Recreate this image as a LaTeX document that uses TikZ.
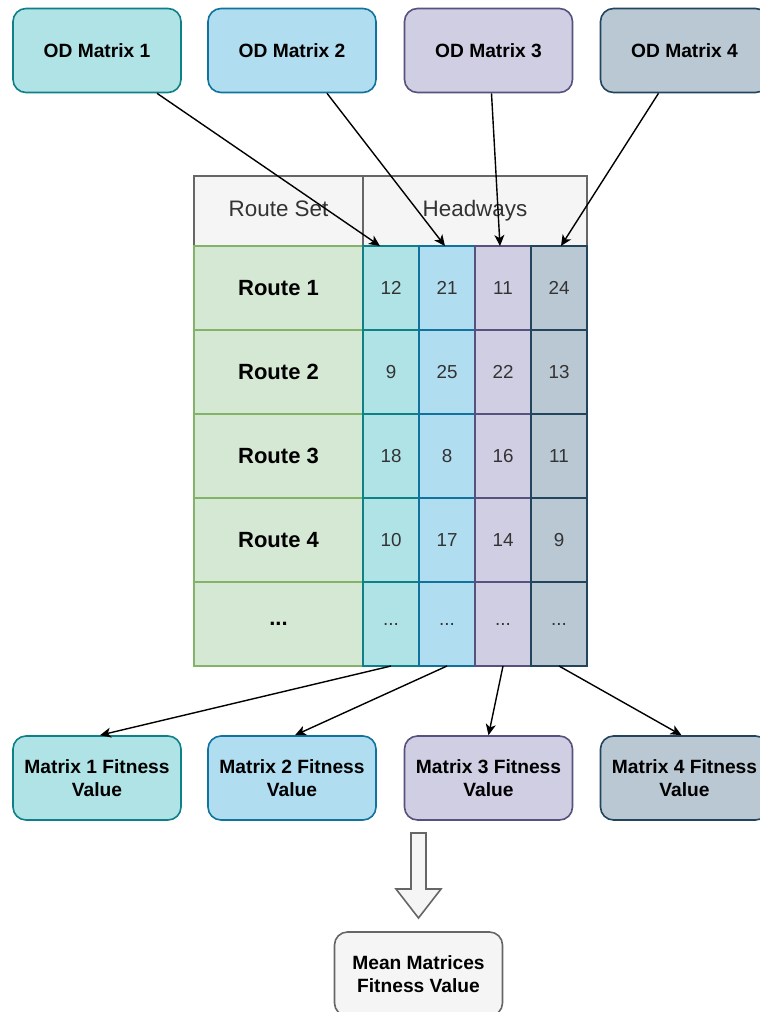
\documentclass[tikz,border=0pt]{standalone}
\usepackage{fontspec}
\setmainfont{Liberation Sans}
\usetikzlibrary{arrows.meta}
\definecolor{mafill}{HTML}{B0E3E6}
\definecolor{maline}{HTML}{0E8088}
\definecolor{mbfill}{HTML}{B1DDF0}
\definecolor{mbline}{HTML}{10739E}
\definecolor{mcfill}{HTML}{D0CEE2}
\definecolor{mcline}{HTML}{56517E}
\definecolor{mdfill}{HTML}{BAC8D3}
\definecolor{mdline}{HTML}{23445D}
\definecolor{routefill}{HTML}{D5E8D4}
\definecolor{routeline}{HTML}{82B366}
\definecolor{headfill}{HTML}{F5F5F5}
\definecolor{headline}{HTML}{666666}
\definecolor{txtgray}{HTML}{333333}
\begin{document}
\begin{tikzpicture}
[
x=0.5pt, y=-0.5pt,
odbox/.style={rectangle, rounded corners=6.5pt, line width=0.8pt, minimum width=84pt, minimum height=42pt, align=center, font=\fontsize{9.6}{11.2}\selectfont\bfseries},
cell/.style={rectangle, line width=0.8pt, minimum width=28pt, minimum height=42pt, outer sep=0pt, text=txtgray, font=\fontsize{9.4}{11}\selectfont},
routecell/.style={rectangle, line width=0.8pt, minimum width=84.5pt, minimum height=42pt, outer sep=0pt, fill=routefill, draw=routeline, font=\fontsize{11}{13}\selectfont\bfseries},
headcell/.style={rectangle, line width=0.8pt, minimum height=35pt, outer sep=0pt, text height=8pt, text depth=2.5pt, fill=headfill, draw=headline, text=txtgray, font=\fontsize{11.2}{13}\selectfont},
ma/.style={fill=mafill, draw=maline},
mb/.style={fill=mbfill, draw=mbline},
mc/.style={fill=mcfill, draw=mcline},
md/.style={fill=mdfill, draw=mdline},
arr/.style={-{Stealth[length=5.5pt,width=5pt,inset=1.5pt]}, line width=0.7pt}
]
\useasboundingbox (0,0) rectangle (760,1012);
%Nodes
\node[odbox, ma]	(od1) at(97,50.5) {OD Matrix 1};
\node[odbox, mb]	(od2) at(292,50.5) {OD Matrix 2};
\node[odbox, mc]	(od3) at(488.5,50.5) {OD Matrix 3};
\node[odbox, md]	(od4) at(684.5,50.5) {OD Matrix 4};

\node[headcell, minimum width=84.5pt]	(rs) at(278.5,211) {Route Set};
\node[headcell, minimum width=112pt]	(hw) at(475,211) {Headways};

\node[routecell]	(r1) at(278.5,288) {Route 1};
\node[routecell]	(r2) at(278.5,372) {Route 2};
\node[routecell]	(r3) at(278.5,456) {Route 3};
\node[routecell]	(r4) at(278.5,540) {Route 4};
\node[routecell]	(r5) at(278.5,624) {...};

\node[cell, ma]	(c11) at(391,288) {12};
\node[cell, mb]	(c12) at(447,288) {21};
\node[cell, mc]	(c13) at(503,288) {11};
\node[cell, md]	(c14) at(559,288) {24};
\node[cell, ma]	(c21) at(391,372) {9};
\node[cell, mb]	(c22) at(447,372) {25};
\node[cell, mc]	(c23) at(503,372) {22};
\node[cell, md]	(c24) at(559,372) {13};
\node[cell, ma]	(c31) at(391,456) {18};
\node[cell, mb]	(c32) at(447,456) {8};
\node[cell, mc]	(c33) at(503,456) {16};
\node[cell, md]	(c34) at(559,456) {11};
\node[cell, ma]	(c41) at(391,540) {10};
\node[cell, mb]	(c42) at(447,540) {17};
\node[cell, mc]	(c43) at(503,540) {14};
\node[cell, md]	(c44) at(559,540) {9};
\node[cell, ma]	(c51) at(391,624) {...};
\node[cell, mb]	(c52) at(447,624) {...};
\node[cell, mc]	(c53) at(503,624) {...};
\node[cell, md]	(c54) at(559,624) {...};

\node[odbox, ma]	(fit1) at(97,778) {Matrix 1 Fitness\\Value};
\node[odbox, mb]	(fit2) at(292,778) {Matrix 2 Fitness\\Value};
\node[odbox, mc]	(fit3) at(488.5,778) {Matrix 3 Fitness\\Value};
\node[odbox, md]	(fit4) at(684.5,778) {Matrix 4 Fitness\\Value};

\node[odbox, fill=headfill, draw=headline]	(mean) at(418.5,974) {Mean Matrices\\Fitness Value};

%Arrows
\draw[arr] ([xshift=30pt]od1.south) -- ([xshift=-5.5pt]c11.north);
\draw[arr] ([xshift=17.5pt]od2.south) -- ([xshift=-1pt]c12.north);
\draw[arr] ([xshift=1.5pt]od3.south) -- ([xshift=-1.5pt]c13.north);
\draw[arr] ([xshift=-13pt]od4.south) -- ([xshift=1pt]c14.north);

\draw[arr] (c51.south) -- ([xshift=1.5pt]fit1.north);
\draw[arr] (c52.south) -- ([xshift=1.5pt]fit2.north);
\draw[arr] (c53.south) -- (fit3.north);
\draw[arr] (c54.south) -- ([xshift=-1.5pt]fit4.north);

\draw[fill=headfill, draw=headline, line width=0.8pt, line join=miter] (411,833) -- (426,833) -- (426,889) -- (441,889) -- (418.5,918) -- (396,889) -- (411,889) -- cycle;

\end{tikzpicture}
\end{document}
